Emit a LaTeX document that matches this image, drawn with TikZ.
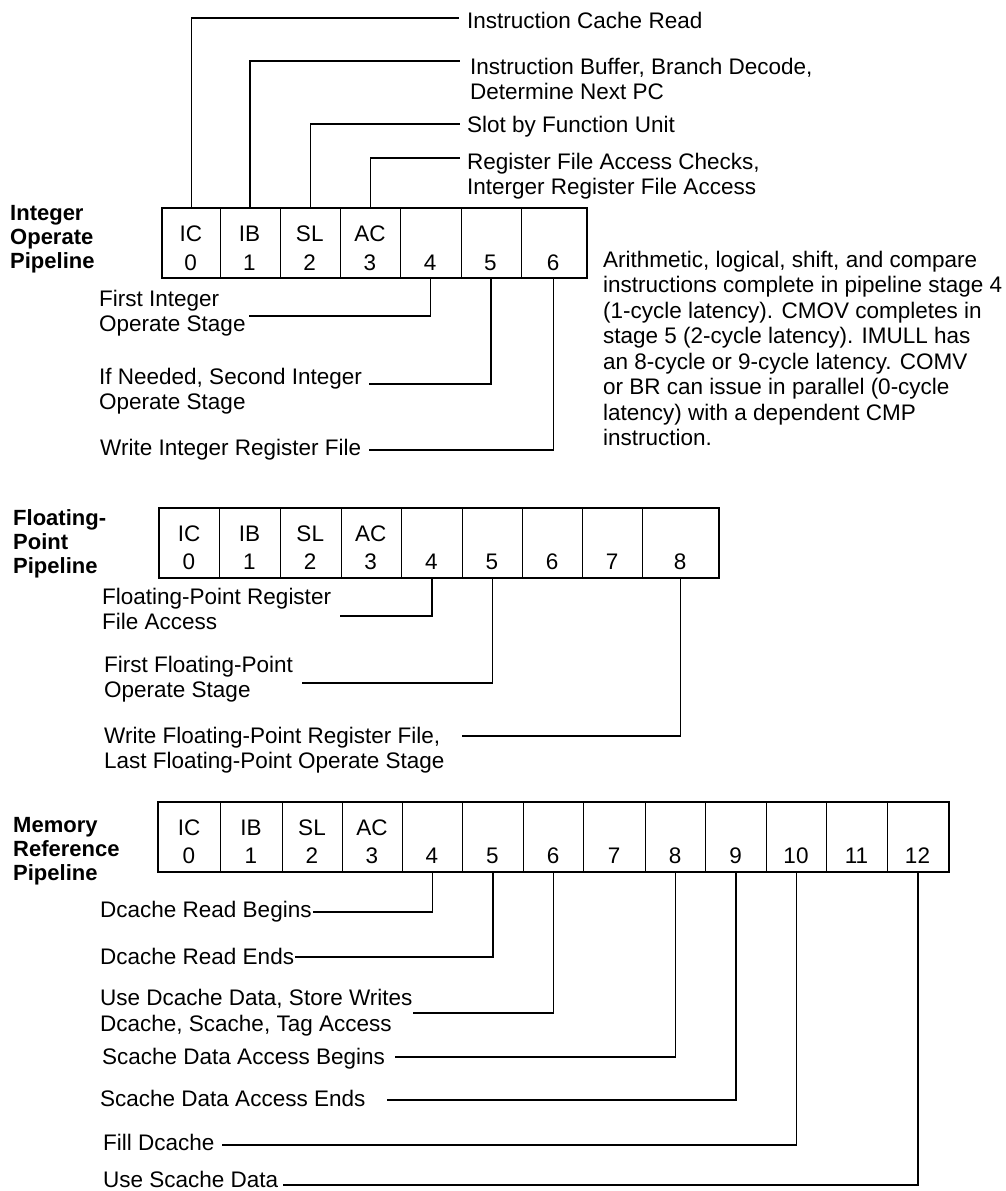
\documentclass[tikz,border=0pt]{standalone}
\usepackage{fontspec}
\setmainfont{Liberation Sans}
\begin{document}
\begin{tikzpicture}[x=1pt,y=-1pt,
  cellbox/.style={draw, line width=1pt, inner sep=0pt, minimum height=69pt, anchor=north west},
  celltxt/.style={inner sep=0pt, anchor=base, font=\fontsize{22.5}{25}\selectfont},
  lbl/.style={inner sep=0pt, anchor=base west, align=left, font=\fontsize{22.5}{25.5}\selectfont},
  ttl/.style={inner sep=0pt, anchor=base west, align=left, font=\bfseries\fontsize{22}{24}\selectfont},
  conn/.style={line width=1.3pt},
  frame/.style={line width=2pt}]
\useasboundingbox (0,0) rectangle (1006,1191);

% ---------------- Integer operate pipeline ----------------
\foreach \l/\r/\a/\n in {162/219.5/IC/0, 219.5/279.5/IB/1, 279.5/340/SL/2, 340/400/AC/3, 400/460.5//4, 460.5/520.5//5, 520.5/585.5//6}{
  \pgfmathsetmacro\w{\r-\l}
  \pgfmathsetmacro\c{(\r+\l)/2}
  \node[cellbox, minimum width=\w pt] (int\n) at (\l,208) {};
  \node[celltxt] (int\n a) at (\c,241) {\a};
  \node[celltxt] (int\n d) at (\c,270) {\n};
}
\draw[frame] (int0.north west) rectangle (int6.south east);
\node[ttl] (intttl) at (10,268) {Integer\\Operate\\Pipeline};

\node[lbl] (t0) at (467,28) {Instruction Cache Read};
\node[lbl] (t1) at (470,99.5) {Instruction Buffer, Branch Decode,\\Determine Next PC};
\node[lbl] (t2) at (467,132) {Slot by Function Unit};
\node[lbl] (t3) at (467,194.5) {Register File Access Checks,\\Interger Register File Access};
\coordinate (ct0) at (459,18);
\coordinate (ct1) at (460,61);
\coordinate (ct2) at (460,124);
\coordinate (ct3) at (460,158);
\draw[conn] (int0.north) |- (ct0);
\draw[conn] (int1.north) |- (ct1);
\draw[conn] (int2.north) |- (ct2);
\draw[conn] (int3.north) |- (ct3);

\node[lbl] (b4) at (99,331.5) {First Integer\\Operate Stage};
\node[lbl] (b5) at (99,409.5) {If Needed, Second Integer\\Operate Stage};
\node[lbl] (b6) at (100,455) {Write Integer Register File};
\coordinate (cb4) at (249,316);
\coordinate (cb5) at (369,384);
\coordinate (cb6) at (369,450);
\draw[conn] (int4.south) |- (cb4);
\draw[conn] (int5.south) |- (cb5);
\draw[conn] (int6.south) |- (cb6);

\node[lbl] (note) at (603,445.5) {Arithmetic, logical, shift, and compare\\instructions complete in pipeline stage 4\\(1-cycle latency). CMOV completes in\\stage 5 (2-cycle latency). IMULL has\\an 8-cycle or 9-cycle latency. COMV\\or BR can issue in parallel (0-cycle\\latency) with a dependent CMP\\instruction.};

% ---------------- Floating-point pipeline ----------------
\foreach \l/\r/\a/\n in {159/219/IC/0, 219/280/IB/1, 280/340.5/SL/2, 340.5/401/AC/3, 401/462//4, 462/522//5, 522/582//6, 582/642//7, 642/718//8}{
  \pgfmathsetmacro\w{\r-\l}
  \pgfmathsetmacro\c{(\r+\l)/2}
  \node[cellbox, minimum width=\w pt] (fp\n) at (\l,508) {};
  \node[celltxt] (fp\n a) at (\c,541) {\a};
  \node[celltxt] (fp\n d) at (\c,569) {\n};
}
\draw[frame] (fp0.north west) rectangle (fp8.south east);
\node[ttl] (fpttl) at (13,573) {Floating-\\Point\\Pipeline};

\node[lbl] (f4) at (102,629.5) {Floating-Point Register\\File Access};
\node[lbl] (f5) at (104,697.5) {First Floating-Point\\Operate Stage};
\node[lbl] (f8) at (104,768.5) {Write Floating-Point Register File,\\Last Floating-Point Operate Stage};
\coordinate (cf4) at (340,616);
\coordinate (cf5) at (302,683);
\coordinate (cf8) at (462,736);
\draw[conn] (fp4.south) |- (cf4);
\draw[conn] (fp5.south) |- (cf5);
\draw[conn] (fp8.south) |- (cf8);

% ---------------- Memory reference pipeline ----------------
\foreach \l/\r/\a/\n in {158/220/IC/0, 220/282/IB/1, 282/342/SL/2, 342/402/AC/3, 402/462//4, 462/523//5, 523/583//6, 583/645//7, 645/705//8, 705/766//9, 766/826//10, 826/887//11, 887/948//12}{
  \pgfmathsetmacro\w{\r-\l}
  \pgfmathsetmacro\c{(\r+\l)/2}
  \node[cellbox, minimum width=\w pt] (mem\n) at (\l,802) {};
  \node[celltxt] (mem\n a) at (\c,835) {\a};
  \node[celltxt] (mem\n d) at (\c,863) {\n};
}
\draw[frame] (mem0.north west) rectangle (mem12.south east);
\node[ttl] (memttl) at (13,880) {Memory\\Reference\\Pipeline};

\node[lbl] (m4) at (100,917) {Dcache Read Begins};
\node[lbl] (m5) at (100,964) {Dcache Read Ends};
\node[lbl] (m6) at (100,1031) {Use Dcache Data, Store Writes\\Dcache, Scache, Tag Access};
\node[lbl] (m8) at (102,1064) {Scache Data Access Begins};
\node[lbl] (m9) at (100,1106) {Scache Data Access Ends};
\node[lbl] (m10) at (103,1150) {Fill Dcache};
\node[lbl] (m12) at (103,1187) {Use Scache Data};
\coordinate (cm4) at (313,912);
\coordinate (cm5) at (295,957);
\coordinate (cm6) at (413,1013);
\coordinate (cm8) at (395,1057);
\coordinate (cm9) at (387,1100);
\coordinate (cm10) at (222,1145);
\coordinate (cm12) at (283,1185);
\draw[conn] (mem4.south) |- (cm4);
\draw[conn] (mem5.south) |- (cm5);
\draw[conn] (mem6.south) |- (cm6);
\draw[conn] (mem8.south) |- (cm8);
\draw[conn] (mem9.south) |- (cm9);
\draw[conn] (mem10.south) |- (cm10);
\draw[conn] (mem12.south) |- (cm12);
\end{tikzpicture}
\end{document}
